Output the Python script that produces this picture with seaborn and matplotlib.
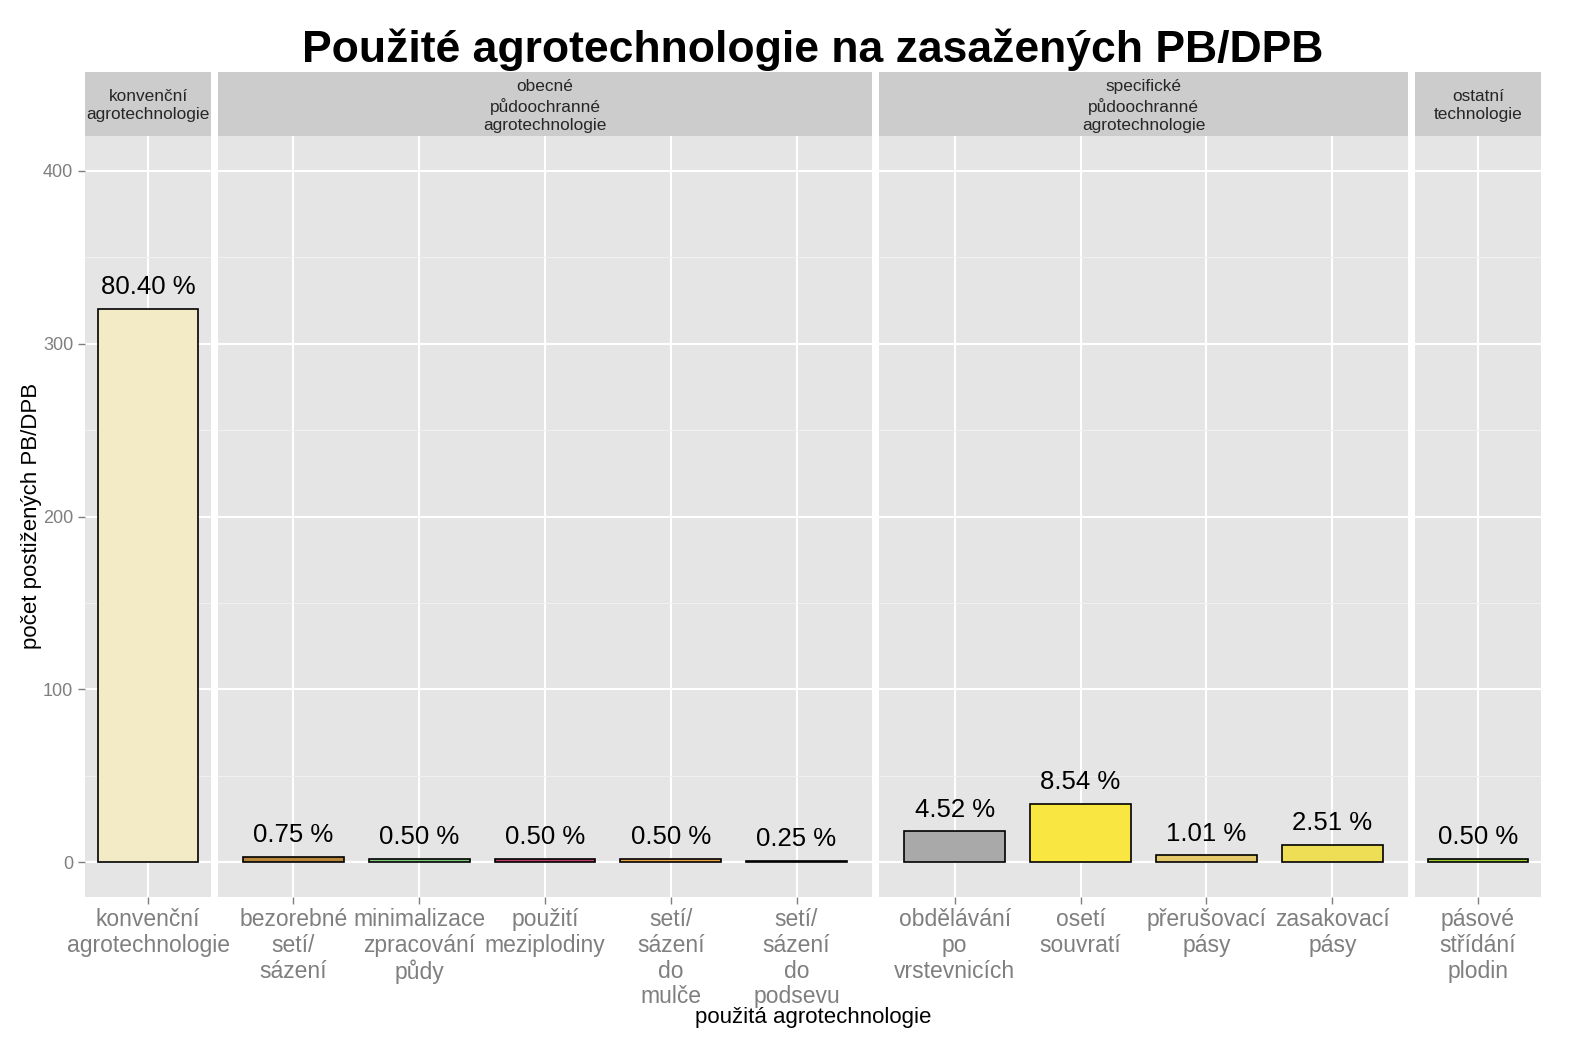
import matplotlib
matplotlib.use("Agg")
import matplotlib.pyplot as plt
import seaborn as sns
import pandas as pd

groups = ["konvenční\nagrotechnologie",
          "obecné\npůdoochranné\nagrotechnologie",
          "specifické\npůdoochranné\nagrotechnologie",
          "ostatní\ntechnologie"]

categories = [
    ["konvenční\nagrotechnologie"],
    ["bezorebné\nsetí/\nsázení", "minimalizace\nzpracování\npůdy", "použití\nmeziplodiny",
     "setí/\nsázení\ndo\nmulče", "setí/\nsázení\ndo\npodsevu"],
    ["obdělávání\npo\nvrstevnicích", "osetí\nsouvratí", "přerušovací\npásy", "zasakovací\npásy"],
    ["pásové\nstřídání\nplodin"],
]

counts = [
    [320],
    [3, 2, 2, 2, 1],
    [18, 34, 4, 10],
    [2],
]

colors = [
    ["#F3EBC6"],
    ["#B8863B", "#7FC97F", "#BF3F6E", "#F0A445", "#111111"],
    ["#A9A9A9", "#F9E640", "#E3C96A", "#EDDE55"],
    ["#9ACD32"],
]

y_ticks = [0, 100, 200, 300, 400]
total = sum(sum(c) for c in counts)

sns.set_theme(style="white")
plt.rcParams['font.family'] = ['Liberation Sans', 'DejaVu Sans']

W, H = 1582, 1054
fig = plt.figure(figsize=(W / 100, H / 100), dpi=100)
widths = [126, 654, 529, 126]
gs = fig.add_gridspec(2, 4, left=85 / W, right=1541 / W, top=1 - 72 / H, bottom=1 - 897 / H,
                      width_ratios=widths, height_ratios=[64, 761],
                      wspace=7 / ((1456 - 21) / 4), hspace=0)

for i in range(4):
    ax = fig.add_subplot(gs[1, i])
    sax = fig.add_subplot(gs[0, i])
    df = pd.DataFrame({"cat": categories[i], "n": counts[i]})
    pal = dict(zip(categories[i], colors[i]))
    ax.set_facecolor("#E5E5E5")
    sns.barplot(data=df, x="cat", y="n", hue="cat", palette=pal, order=categories[i],
                hue_order=categories[i], legend=False, width=0.8, saturation=1,
                edgecolor="black", linewidth=1.2, ax=ax, zorder=3)
    n = len(categories[i])
    if n == 1:
        ax.set_xlim(-0.5, 0.5)
    else:
        ax.set_xlim(-0.6, n - 0.4)
    ax.set_ylim(-20, 420)
    ax.set_yticks(y_ticks)
    ax.set_yticks([50, 150, 250, 350], minor=True)
    ax.grid(True, which="major", color="white", linewidth=1.5, zorder=0)
    ax.grid(True, which="minor", axis="y", color="#F0F0F0", linewidth=0.8, zorder=0)
    ax.set_axisbelow(True)
    for s in ax.spines.values():
        s.set_visible(False)
    ax.set_xlabel("")
    ax.set_ylabel("")
    ax.tick_params(axis="x", colors="#7F7F7F", labelsize=16.5, length=5, width=1, pad=3,
                   bottom=True, labelcolor="#7F7F7F")
    for lab in ax.get_xticklabels():
        lab.set_linespacing(1.15)
    if i == 0:
        ax.tick_params(axis="y", colors="#7F7F7F", labelsize=13, length=5, width=1, left=True,
                       labelcolor="#7F7F7F")
    else:
        ax.tick_params(axis="y", left=False, labelleft=False)
    ax.tick_params(axis="y", which="minor", left=False)
    for p, v in zip(ax.patches, counts[i]):
        ax.annotate(f"{100 * v / total:.2f} %", (p.get_x() + p.get_width() / 2, p.get_height()),
                    xytext=(0, 7), textcoords="offset points", ha="center", va="bottom",
                    fontsize=18.5, color="black")
    sax.set_facecolor("#CCCCCC")
    sax.set_xticks([])
    sax.set_yticks([])
    for s in sax.spines.values():
        s.set_visible(False)
    sax.text(0.5, 0.47, groups[i], ha="center", va="center", fontsize=12.4,
             transform=sax.transAxes, linespacing=1.25)

fig.text(813 / W, 1 - 50 / H, "Použité agrotechnologie na zasažených PB/DPB", ha="center",
         va="center", fontsize=32, fontweight="bold", color="black")
fig.text(32 / W, 1 - 516 / H, "počet postižených PB/DPB", ha="center", va="center",
         rotation=90, fontsize=16, color="black")
fig.text(813 / W, 1 - 1018 / H, "použitá agrotechnologie", ha="center", va="center",
         fontsize=16, color="black")

fig.savefig("out.png", dpi=100)
